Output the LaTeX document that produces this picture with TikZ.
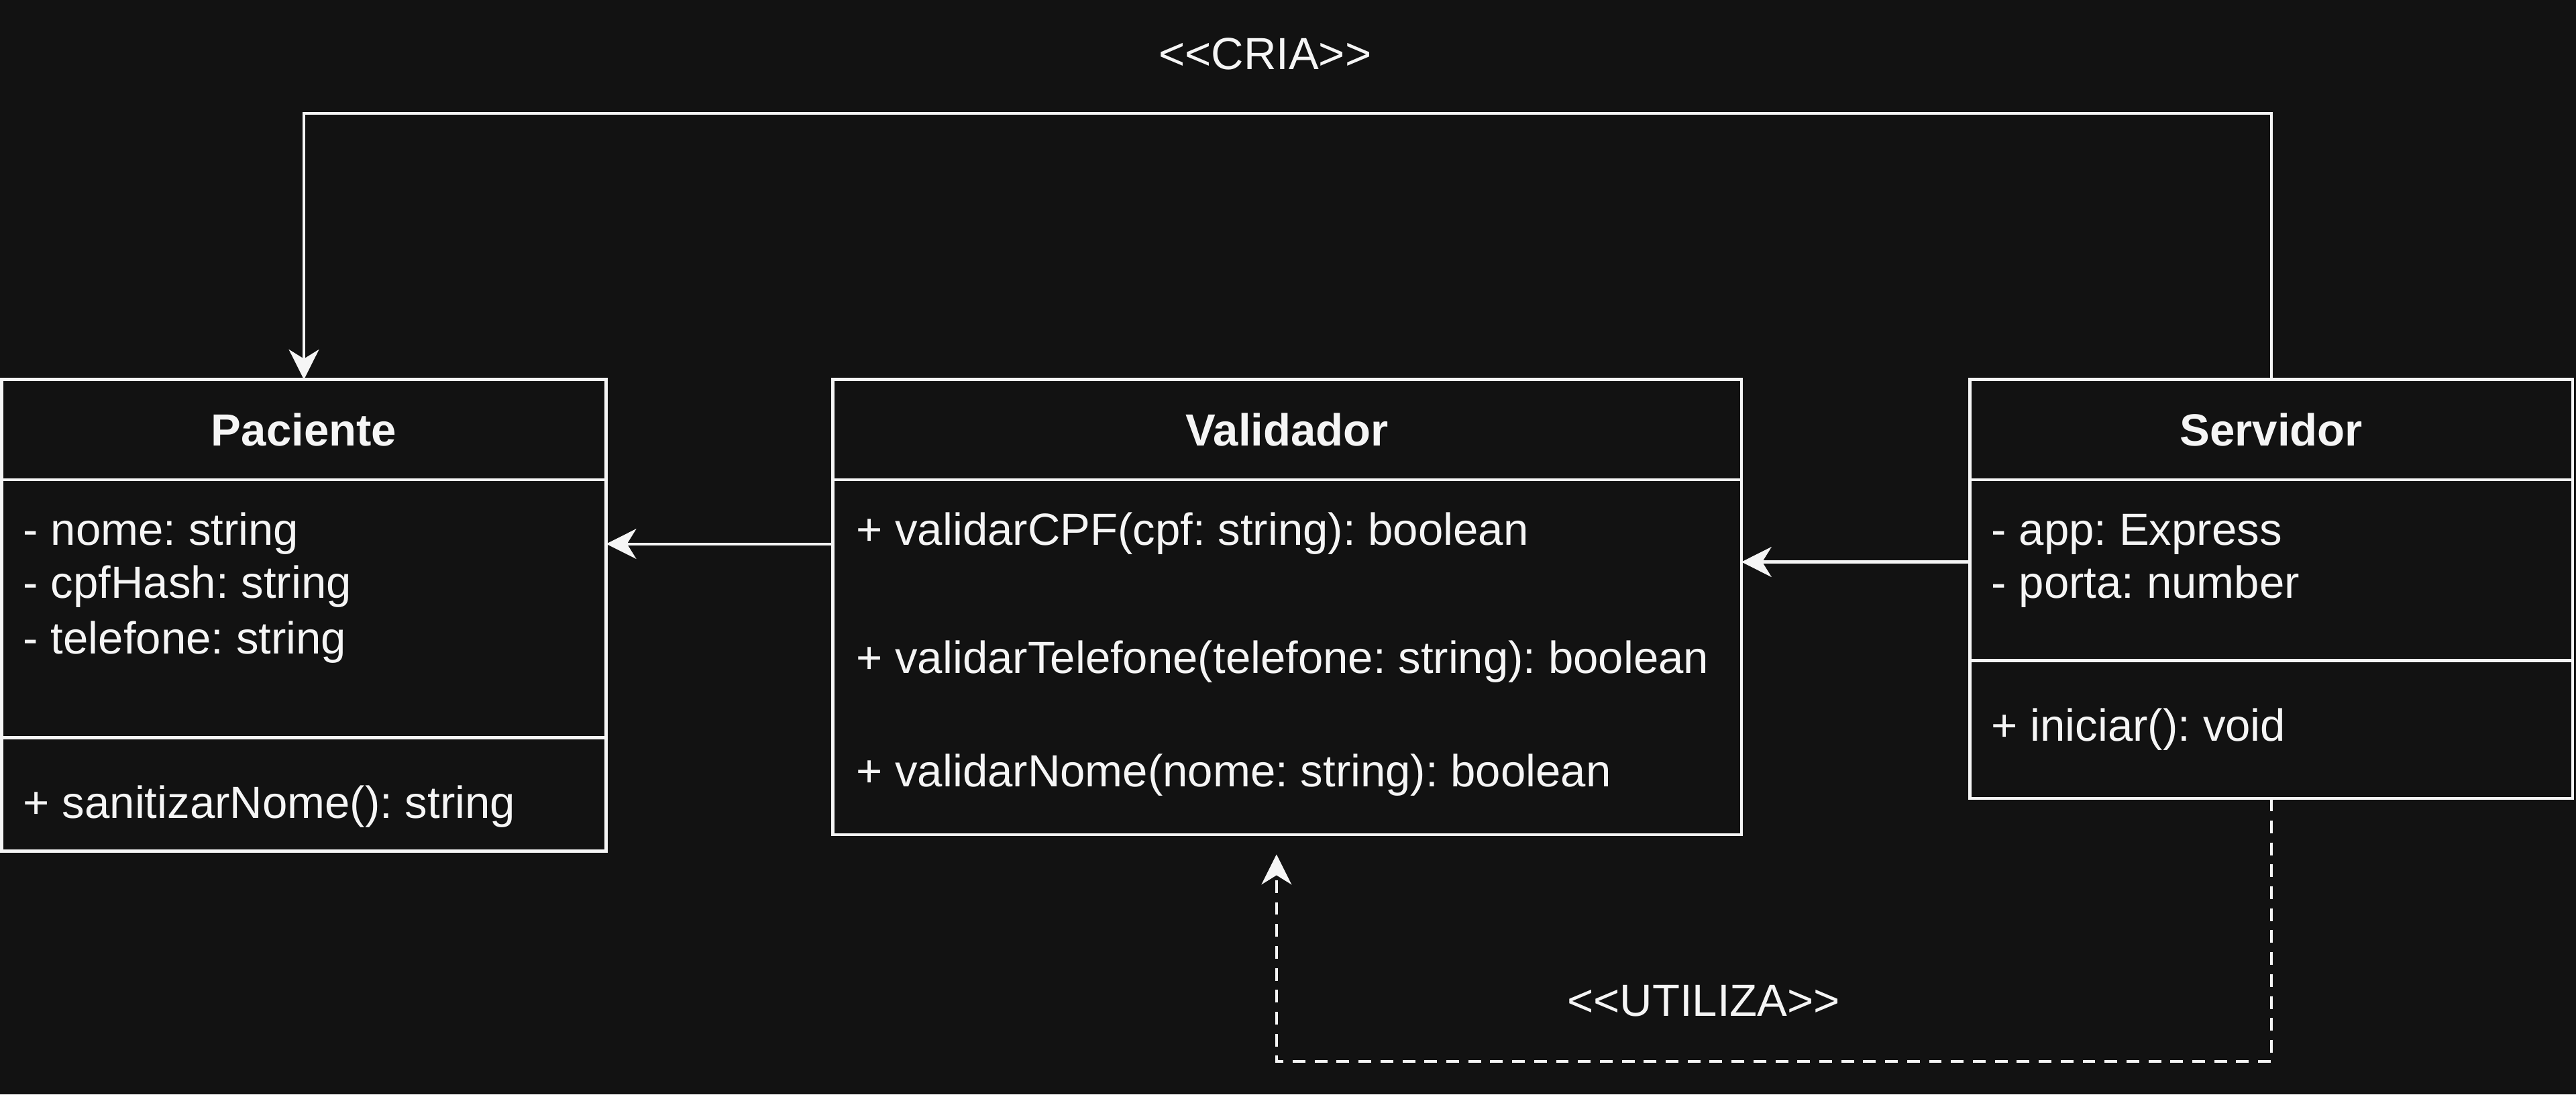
\documentclass[tikz,border=0pt]{standalone}
\usepackage{fontspec}
\setmainfont{Liberation Sans}
\usetikzlibrary{arrows.meta, calc, positioning}
\definecolor{bgdark}{RGB}{18, 18, 18}
\definecolor{umlwhite}{RGB}{245, 245, 245}
\frenchspacing

\tikzset{
	classbox/.style={draw=umlwhite, fill=bgdark, line width=1.3pt, anchor=north west,
		inner sep=0pt, outer sep=0pt},
	classtitle/.style={font=\fontsize{19.5}{23.5}\selectfont\bfseries, text=umlwhite},
	member/.style={font=\fontsize{19.5}{23.5}\selectfont, text=umlwhite, anchor=west,
		inner sep=0pt, text height=14pt, text depth=4pt},
	stereo/.style={font=\fontsize{19.5}{23.5}\selectfont, text=umlwhite},
	assoc/.style={draw=umlwhite, line width=1.2pt,
		-{Stealth[length=13pt, width=13pt, inset=4pt]}},
	usedash/.style={dash pattern=on 5.5pt off 4pt},
}

\begin{document}
\begin{tikzpicture}
	% background and page size
	\fill[bgdark] (0,0) rectangle (39.2, 16.65);
	\useasboundingbox (0,0) rectangle (39.2, 16.65);
	% Paciente
	\node[classbox, classtitle, minimum width=9.2cm, minimum height=1.525cm]
	(pacHead) at (0.025, 10.875) {Paciente};
	\node[classbox, minimum width=9.2cm, minimum height=3.925cm]
	(pacAttr) at (0.025, 9.35) {};
	\node[classbox, minimum width=9.2cm, minimum height=1.725cm]
	(pacOps) at (0.025, 5.425) {};
	\node[member] (pacNome) at (0.35, 8.53) {- nome: string};
	\node[member] (pacCpf) at (0.35, 7.73) {- cpfHash: string};
	\node[member] (pacTel) at (0.35, 6.88) {- telefone: string};
	\node[member] (pacSan) at (0.35, 4.38) {+ sanitizarNome(): string};
	% Validador
	\node[classbox, classtitle, minimum width=13.825cm, minimum height=1.525cm]
	(valHead) at (12.675, 10.875) {Validador};
	\node[classbox, minimum width=13.825cm, minimum height=5.4cm]
	(valOps) at (12.675, 9.35) {};
	\node[member] (valCpf) at (13.025, 8.53) {+ validarCPF(cpf: string): boolean};
	\node[member] (valTel) at (13.025, 6.58) {+ validarTelefone(telefone: string): boolean};
	\node[member] (valNome) at (13.025, 4.855) {+ validarNome(nome: string): boolean};
	% Servidor
	\node[classbox, classtitle, minimum width=9.175cm, minimum height=1.525cm]
	(srvHead) at (29.975, 10.875) {Servidor};
	\node[classbox, minimum width=9.175cm, minimum height=2.75cm]
	(srvAttr) at (29.975, 9.35) {};
	\node[classbox, minimum width=9.175cm, minimum height=2.1cm]
	(srvOps) at (29.975, 6.60) {};
	\node[member] (srvApp) at (30.30, 8.53) {- app: Express};
	\node[member] (srvPorta) at (30.30, 7.73) {- porta: number};
	\node[member] (srvIni) at (30.30, 5.555) {+ iniciar(): void};
	% connectors
	\coordinate (valLeft) at (12.675, 8.375);
	\coordinate (srvLeft) at (29.975, 8.10);
	\coordinate (useEnd) at (19.425, 3.65);
	\draw[assoc] (valLeft) -- (valLeft -| pacAttr.east);
	\draw[assoc] (srvLeft) -- (srvLeft -| valOps.east);
	% <<CRIA>>
	\draw[assoc] (srvHead.north) -- ++(0, 4.05) -| (pacHead.north);
	\node[stereo] (criaLbl) at (19.25, 15.825) {<\kern0pt<CRIA>\kern0pt>};
	% <<UTILIZA>>
	\draw[assoc, usedash] (srvOps.south) -- ++(0, -4.0) -| (useEnd);
	\node[stereo] (utilLbl) at (25.925, 1.425) {<\kern0pt<UTILIZA>\kern0pt>};
\end{tikzpicture}
\end{document}
